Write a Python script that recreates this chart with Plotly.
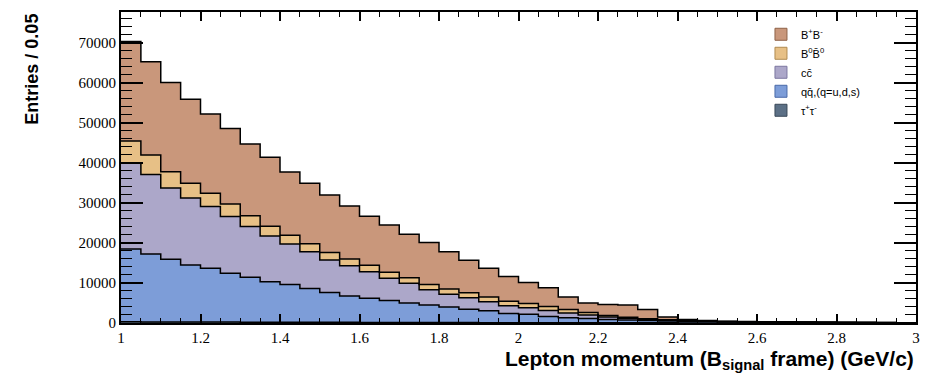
import plotly.graph_objects as go

# Bin edges: 1.0 .. 3.0 in steps of 0.05 (40 bins)
bin_low = 1.0
bin_width = 0.05
n_bins = 40

# Component yields per bin (entries / 0.05)
tautau = [300, 280, 260, 250, 240, 220, 210, 200, 190, 180, 170, 160, 150, 140, 130, 120, 110, 100, 90, 80,
          80, 70, 60, 60, 50, 50, 40, 40, 30, 30, 30, 20, 20, 20, 20, 10, 10, 10, 10, 10]
qqbar = [18200, 16970, 15640, 14250, 13460, 12180, 11190, 10100, 9410, 8420, 7430, 6590, 6050, 5460, 4870, 4380,
         3890, 3350, 2960, 2320, 2120, 1530, 1240, 1040, 850, 700, 560, 460, 370, 320, 270, 260, 230, 200, 160,
         140, 120, 90, 70, 50]
ccbar = [21400, 19850, 17800, 16700, 15400, 14200, 12700, 11450, 10150, 9200, 8150, 7550, 6600, 5600, 4900, 3800,
         3200, 2850, 2250, 1900, 1600, 1500, 1200, 900, 600, 450, 300, 200, 100, 70, 40, 30, 30, 20, 20, 20, 10,
         10, 10, 10]
b0b0bar = [5600, 4900, 4100, 3700, 3300, 3100, 2700, 2400, 2200, 2000, 1850, 1700, 1600, 1500, 1400, 1350, 1300,
           1250, 1200, 1150, 1050, 1000, 850, 600, 400, 250, 150, 100, 80, 40, 20, 10, 10, 10, 10, 10, 10, 10, 10, 10]
bpbm = [24800, 23300, 22300, 21000, 19800, 18900, 17900, 17250, 15750, 15100, 14400, 13200, 12300, 11800, 10900,
        10450, 9300, 8150, 7200, 6150, 5250, 4700, 3150, 2400, 2700, 3050, 2350, 700, 320, 140, 90, 60, 40, 30, 20,
        20, 20, 10, 10, 10]

names = ["τ<sup>+</sup>τ<sup>-</sup>", "qq̄,(q=u,d,s)", "cc̄", "B<sup>0</sup>B̄<sup>0</sup>",
         "B<sup>+</sup>B<sup>-</sup>"]
colors = ["#5c7086", "#7d9dd8", "#aca7c9", "#e7c086", "#c9977b"]
edge_colors = ["#3a4858", "#4a6aa8", "#7c77a0", "#b08a50", "#8e6248"]
series = [tautau, qqbar, ccbar, b0b0bar, bpbm]

x_ticks = [1, 1.2, 1.4, 1.6, 1.8, 2, 2.2, 2.4, 2.6, 2.8, 3]
y_ticks = [0, 10000, 20000, 30000, 40000, 50000, 60000, 70000]

edges = [round(bin_low + i * bin_width, 4) for i in range(n_bins + 1)]

fig = go.Figure()
cum = [0] * n_bins
for k, (vals, name, col) in enumerate(zip(series, names, colors)):
    cum = [c + v for c, v in zip(cum, vals)]
    ys = cum + [cum[-1]]
    fig.add_trace(go.Scatter(
        x=edges, y=ys, mode="lines", line=dict(shape="hv", color="black", width=1.5),
        fill="tozeroy" if k == 0 else "tonexty", fillcolor=col, name=name,
        hoverinfo="skip", showlegend=False, legendgroup=name))

# legend boxes (filled squares like the reference)
for name, col, ecol in zip(names, colors, edge_colors):
    fig.add_trace(go.Bar(x=[None], y=[None], name=name, legendgroup=name,
                         marker=dict(color=col, line=dict(color=ecol, width=1))))

tick_font = dict(family="Liberation Serif", size=15, color="black")

fig.update_layout(
    width=929, height=377,
    margin=dict(l=121, r=9, t=12, b=54),
    paper_bgcolor="white", plot_bgcolor="white",
    showlegend=True,
    legend=dict(x=0.805, y=0.975, xanchor="left", yanchor="top", traceorder="reversed",
                font=dict(family="Liberation Sans", size=11, color="black"),
                bgcolor="rgba(0,0,0,0)", itemwidth=30, tracegroupgap=0),
    xaxis=dict(range=[1, 3], tickvals=x_ticks, ticks="inside", ticklen=9, tickwidth=1.5, tickcolor="black",
               minor=dict(dtick=0.05, tick0=1, ticks="inside", ticklen=5, tickcolor="black", tickwidth=1),
               showline=True, linecolor="black", linewidth=2, mirror="allticks", showgrid=False,
               zeroline=False, tickfont=tick_font),
    yaxis=dict(range=[0, 77700], tickvals=y_ticks, tickformat="d", ticks="inside", ticklen=22, tickwidth=1.5,
               tickcolor="black",
               minor=dict(dtick=2000, tick0=0, ticks="inside", ticklen=11, tickcolor="black", tickwidth=1),
               showline=True, linecolor="black", linewidth=2, mirror="allticks", showgrid=False,
               zeroline=False, tickfont=tick_font),
    annotations=[
        dict(text="<b>Lepton momentum (B<sub>signal</sub> frame) (GeV/c)</b>", xref="paper", yref="paper",
             x=1.0, y=-0.12, xanchor="right", yanchor="middle", showarrow=False,
             font=dict(family="Liberation Sans", size=21, color="black")),
        dict(text="<b>Entries / 0.05</b>", xref="paper", yref="paper", x=-0.113, y=1.0,
             xanchor="center", yanchor="top", textangle=-90, showarrow=False,
             font=dict(family="Liberation Sans", size=18, color="black")),
    ],
)

fig.write_html("out.html")
